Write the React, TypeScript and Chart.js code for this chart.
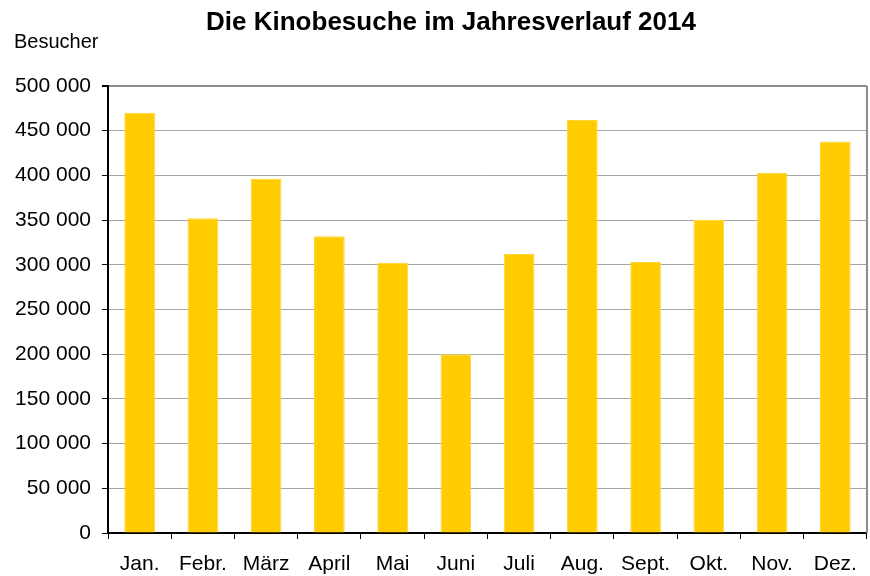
import React, { useEffect, useRef } from "react";
import { Chart, registerables } from "chart.js";

Chart.register(...registerables);

const TITLE = "Die Kinobesuche im Jahresverlauf 2014";
const Y_LABEL = "Besucher";
const MONTHS = ["Jan.", "Febr.", "März", "April", "Mai", "Juni", "Juli", "Aug.", "Sept.", "Okt.", "Nov.", "Dez."];
const VISITORS = [470000, 352000, 396000, 332000, 302000, 200000, 312000, 462000, 303000, 350000, 403000, 438000];
const Y_MIN = 0;
const Y_MAX = 500000;
const Y_STEP = 50000;

const FONT = '"Liberation Sans", Arial, sans-serif';

const fmt = (v: number) => String(Math.round(v)).replace(/\B(?=(\d{3})+(?!\d))/g, " ");

const textPlugin = {
  id: "extraTexts",
  afterDraw(chart: any) {
    const ctx = chart.ctx;
    const { top, right, bottom } = chart.chartArea;
    ctx.save();
    ctx.strokeStyle = "#8c8c8c";
    ctx.lineWidth = 2;
    ctx.beginPath();
    ctx.moveTo(right, top);
    ctx.lineTo(right, bottom);
    ctx.stroke();
    ctx.fillStyle = "#000";
    ctx.font = `bold 26px ${FONT}`;
    ctx.textAlign = "center";
    ctx.textBaseline = "alphabetic";
    ctx.fillText(TITLE, 451, 30);
    ctx.font = `20px ${FONT}`;
    ctx.textAlign = "left";
    ctx.fillText(Y_LABEL, 14, 48);
    ctx.restore();
  },
};

export default function App() {
  const ref = useRef<HTMLCanvasElement>(null);
  useEffect(() => {
    if (!ref.current) return;
    const chart = new Chart(ref.current, {
      type: "bar",
      data: {
        labels: MONTHS,
        datasets: [
          {
            data: VISITORS,
            backgroundColor: "#FFCC00",
            borderColor: "#FFD633",
            borderWidth: 1,
            barPercentage: 1,
            categoryPercentage: 0.485,
          },
        ],
      },
      options: {
        responsive: false,
        animation: false,
        layout: { padding: { top: 86, right: 2, left: 0, bottom: 0 } },
        plugins: {
          legend: { display: false },
          title: { display: false },
          tooltip: { enabled: false },
        },
        scales: {
          x: {
            offset: true,
            grid: {
              offset: true,
              drawOnChartArea: false,
              drawTicks: true,
              tickLength: 6,
              tickColor: "#000",
            },
            border: { color: "#000", width: 2 },
            ticks: { color: "#000", padding: 13, font: { family: FONT, size: 21 } },
            afterFit: (scale: any) => {
              scale.height = 43;
            },
          },
          y: {
            min: Y_MIN,
            max: Y_MAX,
            ticks: {
              stepSize: Y_STEP,
              color: "#000",
              padding: 11,
              font: { family: FONT, size: 21 },
              callback: (v: any) => fmt(Number(v)),
            },
            grid: {
              color: (c: any) => (c.tick && c.tick.value === Y_MAX ? "#8c8c8c" : "#a6a6a6"),
              lineWidth: (c: any) => (c.tick && c.tick.value === Y_MAX ? 2 : 1),
              tickLength: 6,
              tickColor: "#000",
            },
            border: { color: "#000", width: 2 },
            afterFit: (scale: any) => {
              scale.width = 108;
            },
          },
        },
      },
      plugins: [textPlugin],
    });
    return () => chart.destroy();
  }, []);
  return (
    <div style={{ position: "absolute", left: 0, top: 0, width: 870, height: 576, background: "#fff" }}>
      <canvas ref={ref} width={870} height={576} style={{ display: "block" }} />
    </div>
  );
}
